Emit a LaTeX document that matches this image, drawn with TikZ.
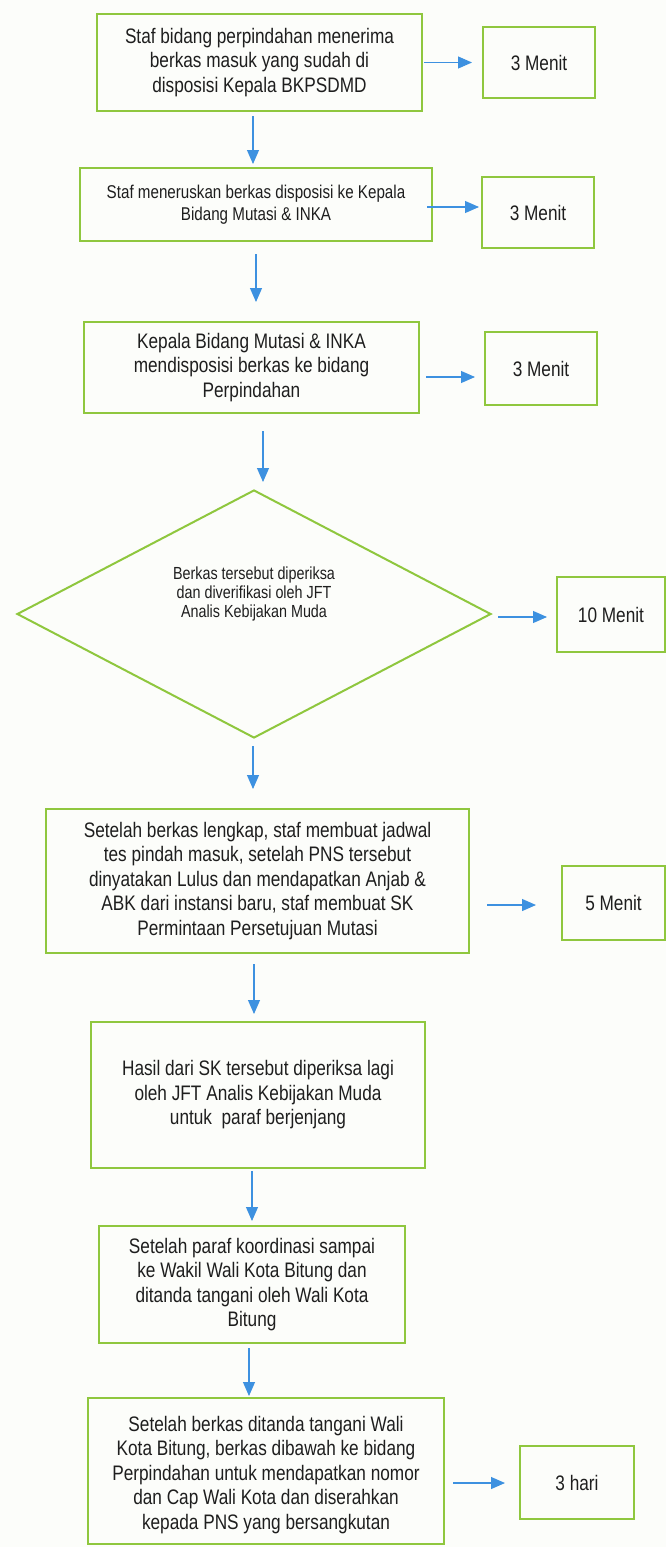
\documentclass[tikz,border=0pt]{standalone}
\usepackage{fontspec}
\setmainfont{Liberation Sans}[FakeStretch=0.82]
\usetikzlibrary{arrows.meta,shapes.geometric,calc}
\definecolor{boxgreen}{RGB}{143,199,62}
\definecolor{arrblue}{RGB}{61,145,224}
\definecolor{inkgray}{RGB}{30,30,30}
\definecolor{paper}{RGB}{252,253,250}
\begin{document}
\begin{tikzpicture}[x=1pt,y=-1pt,
  box/.style={draw=boxgreen, line width=2pt, rectangle, inner sep=0pt, align=center,
    text=inkgray, font=\fontsize{21}{24.5}\selectfont},
  smallbox/.style={box, font=\fontsize{18.5}{21.5}\selectfont},
  decision/.style={draw=boxgreen, line width=2pt, diamond, inner sep=0pt},
  dtext/.style={align=center, text=inkgray, inner sep=0pt, font=\fontsize{17.5}{19}\selectfont},
  btext/.style={align=center, text=inkgray, inner sep=0pt, font=\fontsize{21}{24.5}\selectfont},
  harr/.style={draw=arrblue, line width=1.1pt, -{Triangle[length=14pt,width=12pt]}},
]
\fill[paper] (0,0) rectangle (666,1547);
\useasboundingbox (0,0) rectangle (666,1547);

% main boxes
\node[box, minimum width=325pt, minimum height=97pt] (b1) at (259.5,62.5)
  {Staf bidang perpindahan menerima\\berkas masuk yang sudah di\\disposisi Kepala BKPSDMD};
\node[smallbox, minimum width=352pt, minimum height=73pt] (b2) at (256,204.5)
  {Staf meneruskan berkas disposisi ke Kepala\\Bidang Mutasi \& INKA};
\node[box, minimum width=335pt, minimum height=91pt] (b3) at (251.5,367.5)
  {Kepala Bidang Mutasi \& INKA\\mendisposisi berkas ke bidang\\Perpindahan};
\node[decision, minimum width=474pt, minimum height=248pt] (d) at (254,614) {};
\node[dtext] (dt) at (254,594)
  {Berkas tersebut diperiksa\\dan diverifikasi oleh JFT\\Analis Kebijakan Muda};
\node[box, minimum width=423pt, minimum height=144pt] (b4) at (257.5,881)
  {Setelah berkas lengkap, staf membuat jadwal\\tes pindah masuk, setelah PNS tersebut\\dinyatakan Lulus dan mendapatkan Anjab \&\\ABK dari instansi baru, staf membuat SK\\Permintaan Persetujuan Mutasi};
\node[box, minimum width=334pt, minimum height=146pt] (b5) at (258,1095)
  {Hasil dari SK tersebut diperiksa lagi\\oleh JFT Analis Kebijakan Muda\\untuk\ \ paraf berjenjang};
\node[box, minimum width=306pt, minimum height=117pt] (b6) at (252,1284.5)
  {Setelah paraf koordinasi sampai\\ke Wakil Wali Kota Bitung dan\\ditanda tangani oleh Wali Kota\\Bitung};
\node[box, minimum width=356pt, minimum height=146pt] (b7) at (266,1471) {};
\node[btext] (b7t) at (266,1475)
  {Setelah berkas ditanda tangani Wali\\Kota Bitung, berkas dibawah ke bidang\\Perpindahan untuk mendapatkan nomor\\dan Cap Wali Kota dan diserahkan\\kepada PNS yang bersangkutan};

% time boxes
\node[box, minimum width=112pt, minimum height=71pt] (t1) at (539,62.5) {3 Menit};
\node[box, minimum width=112pt, minimum height=71pt] (t2) at (538,212.5) {3 Menit};
\node[box, minimum width=112pt, minimum height=73pt] (t3) at (541,368.5) {3 Menit};
\node[box, minimum width=108pt, minimum height=75pt] (t4) at (611,614.5) {10 Menit};
\node[box, minimum width=103pt, minimum height=74pt] (t5) at (613.5,903) {5 Menit};
\node[box, minimum width=114pt, minimum height=73pt] (t7) at (577,1482.5) {3 hari};

% horizontal arrows
\draw[harr] ($(b1.east)+(1,0)$) -- ($(b1.east -| t1.west)+(-10,0)$);
\draw[harr] ($(b2.east)+(-6,2.5)$) -- ($(b2.east -| t2.west)+(-2,2.5)$);
\draw[harr] ($(b3.east)+(6,9.5)$) -- ($(b3.east -| t3.west)+(-9,9.5)$);
\draw[harr] ($(d.east)+(6,3)$) -- ($(d.east -| t4.west)+(-9,3)$);
\draw[harr] ($(b4.east)+(17,24)$) -- ($(b4.east -| t5.west)+(-25,24)$);
\draw[harr] ($(b7.east)+(8,12)$) -- ($(b7.east -| t7.west)+(-14,12)$);

% vertical arrows
\draw[harr] ($(b1.south)+(-6.5,4)$) -- ($(b1.south |- b2.north)+(-6.5,-3)$);
\draw[harr] ($(b2.south)+(0,12)$) -- ($(b2.south |- b3.north)+(0,-19)$);
\draw[harr] ($(b3.south)+(11.5,17)$) -- ($(b3.south |- d.north)+(11.5,-7)$);
\draw[harr] ($(d.south)+(-1,7)$) -- ($(d.south |- b4.north)+(-1,-19)$);
\draw[harr] ($(b4.south)+(-3.5,10)$) -- ($(b4.south |- b5.north)+(-3.5,-7)$);
\draw[harr] ($(b5.south)+(-6,2)$) -- ($(b5.south |- b6.north)+(-6,-4)$);
\draw[harr] ($(b6.south)+(-3,4)$) -- ($(b6.south |- b7.north)+(-3,-1)$);
\end{tikzpicture}
\end{document}
